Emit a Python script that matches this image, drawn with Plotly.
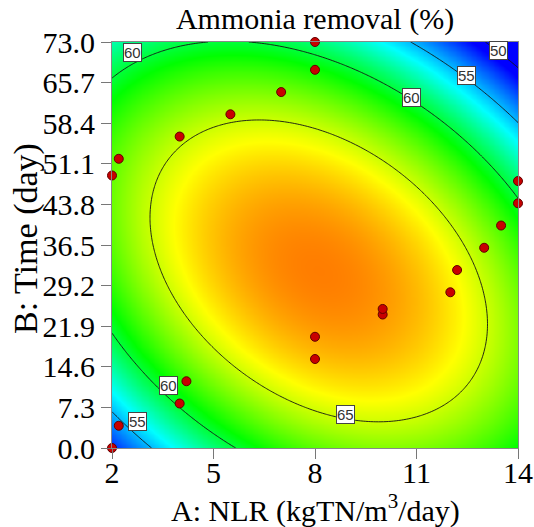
import numpy as np
import plotly.graph_objects as go

# ---- data ----
# Fitted quadratic response-surface model (coded units, A,B in [-1, 1])
A_range = [2, 14]          # NLR (kgTN/m3/day)
B_range = [0, 73]          # Time (day)
coef_intercept = 68.68
coef_A = -0.40
coef_B = -1.91
coef_AB = -4.96
coef_A2 = -6.28
coef_B2 = -7.85

# Design points
nlr_pts = [2, 2.2, 4, 4.2, 8, 8, 10, 10, 12, 12.2, 13, 13.5, 14, 14, 2, 2.2, 4, 5.5, 7, 8, 8]
time_pts = [0, 4, 8, 12, 16, 20, 24, 25, 28, 32, 36, 40, 44, 48, 49, 52, 56, 60, 64, 68, 73]

# Contour levels and labels
contour_levels = [50, 55, 60, 65]
label_text = ["60", "50", "55", "60", "65", "60", "55"]
label_A = [2.61, 13.42, 12.48, 10.84, 8.90, 3.68, 2.74]
label_B = [71.2, 71.4, 66.9, 63.1, 6.0, 11.3, 4.85]

x_ticks = [2, 5, 8, 11, 14]
y_ticks = [0.0, 7.3, 14.6, 21.9, 29.2, 36.5, 43.8, 51.1, 58.4, 65.7, 73.0]

# ---- surface ----
A = np.linspace(A_range[0], A_range[1], 161)
B = np.linspace(B_range[0], B_range[1], 161)
AA, BB = np.meshgrid(A, B)
a = (AA - (A_range[0] + A_range[1]) / 2) / ((A_range[1] - A_range[0]) / 2)
b = (BB - (B_range[0] + B_range[1]) / 2) / ((B_range[1] - B_range[0]) / 2)
Z = (coef_intercept + coef_A * a + coef_B * b + coef_AB * a * b
     + coef_A2 * a ** 2 + coef_B2 * b ** 2)

zmin, zmax = 51.0, 71.5
def pos(v):
    return (v - zmin) / (zmax - zmin)
colorscale = [
    [0.0, "rgb(0,0,255)"],
    [pos(56.5), "rgb(0,255,255)"],
    [pos(61.0), "rgb(0,255,0)"],
    [pos(66.0), "rgb(255,255,0)"],
    [1.0, "rgb(255,0,0)"],
]

fig = go.Figure()
fig.add_trace(go.Contour(
    x=A, y=B, z=Z,
    zmin=zmin, zmax=zmax, zauto=False,
    colorscale=colorscale, showscale=False,
    contours=dict(start=contour_levels[0], end=contour_levels[-1],
                  size=contour_levels[1] - contour_levels[0],
                  coloring="heatmap", showlabels=False),
    line=dict(color="rgba(20,20,20,0.9)", width=1),
    hoverinfo="skip",
))
fig.add_trace(go.Scatter(
    x=nlr_pts, y=time_pts, mode="markers",
    marker=dict(size=9, color="#c80000", line=dict(color="#600000", width=1)),
    cliponaxis=False, showlegend=False,
))

for t, xa, yb in zip(label_text, label_A, label_B):
    fig.add_annotation(x=xa, y=yb, text=t, showarrow=False,
                       font=dict(family="Liberation Sans", size=15, color="#333"),
                       bgcolor="white", bordercolor="#444", borderwidth=1, borderpad=0)

serif = "Liberation Serif"
fig.update_layout(
    width=534, height=527,
    margin=dict(l=112, r=16, t=42, b=79, autoexpand=False),
    paper_bgcolor="white", plot_bgcolor="white",
    title=dict(text="Ammonia removal (%)", x=0.5, xref="paper",
               y=1 - 18 / 527, yref="container", yanchor="middle",
               font=dict(family=serif, size=30, color="black")),
    showlegend=False,
)
fig.update_xaxes(range=A_range, tickvals=x_ticks, ticktext=[str(v) for v in x_ticks],
                 ticks="outside", ticklen=10, tickcolor="#777", showline=True,
                 linecolor="#888", mirror=True, showgrid=False, zeroline=False,
                 automargin=False, ticklabelstandoff=-12,
                 tickfont=dict(family=serif, size=30, color="black"))
fig.update_yaxes(range=B_range, tickvals=y_ticks, ticktext=[f"{v:.1f}" for v in y_ticks],
                 ticks="outside", ticklen=10, tickcolor="#777", showline=True,
                 linecolor="#888", mirror=True, showgrid=False, zeroline=False,
                 automargin=False,
                 tickfont=dict(family=serif, size=30, color="black"))

fig.add_annotation(text="A: NLR (kgTN/m<sup>3</sup>/day)", xref="paper", yref="paper",
                   x=0.5, y=-60 / 406, showarrow=False, yanchor="middle",
                   font=dict(family=serif, size=30, color="black"))
fig.add_annotation(text="B: Time (day)", xref="paper", yref="paper",
                   x=-86 / 406, y=0.515, showarrow=False, textangle=-90,
                   xanchor="center", yanchor="middle",
                   font=dict(family=serif, size=34, color="black"))

fig.write_html("out.html")
